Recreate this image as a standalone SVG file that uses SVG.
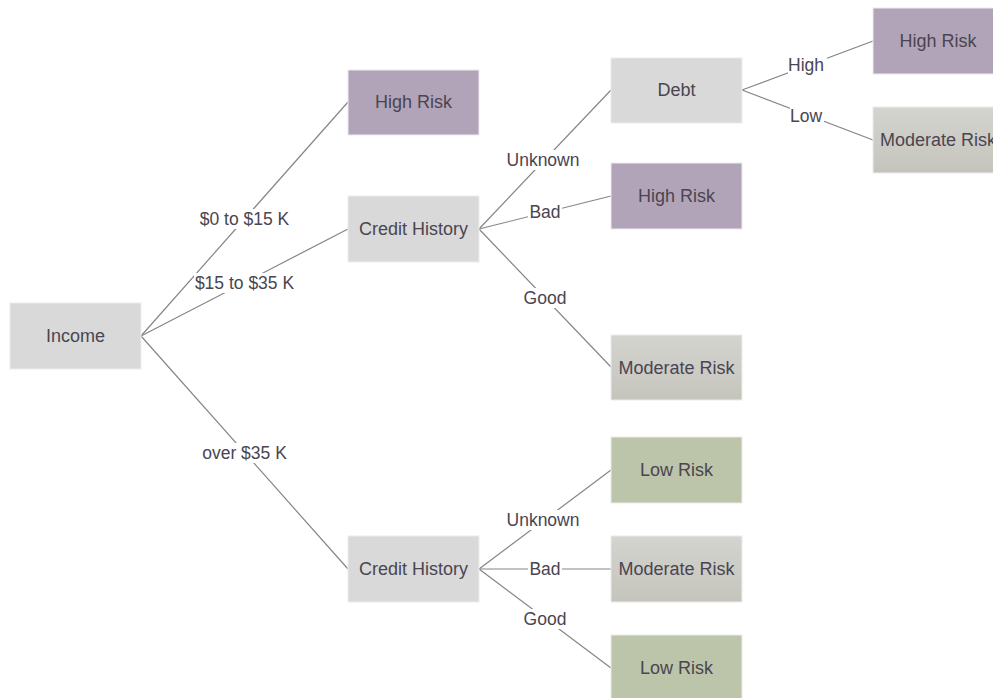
<svg xmlns="http://www.w3.org/2000/svg" width="993" height="698" viewBox="0 0 993 698">
<style>
.n{stroke:#ececec;stroke-width:1}
.gray{fill:#d9d9d9}
.high{fill:#b2a4b8}
.low{fill:#bcc4aa}
.mod{fill:url(#modg)}
.nt{font-family:"Liberation Sans",Arial,sans-serif;font-size:18px;fill:#4a4550;text-anchor:middle}
.c line{stroke:#858585;stroke-width:1.2}
.lb rect{fill:#fff}
.lt{font-family:"Liberation Sans",Arial,sans-serif;font-size:17.5px;fill:#4a4550;text-anchor:middle}
</style>
<defs>
<linearGradient id="modg" x1="0" y1="0" x2="0" y2="1">
<stop offset="0" stop-color="#d4d4d0"/>
<stop offset="1" stop-color="#c5c4bc"/>
</linearGradient>
</defs>
<rect width="993" height="698" fill="#fff"/>
<g id="connectors" class="c">
<line x1="141" y1="336" x2="348" y2="102"/>
<line x1="141" y1="336" x2="348" y2="229"/>
<line x1="141" y1="336" x2="348" y2="569"/>
<line x1="479" y1="229" x2="611" y2="90"/>
<line x1="479" y1="229" x2="611" y2="196"/>
<line x1="479" y1="229" x2="611" y2="367"/>
<line x1="742" y1="90" x2="873" y2="41"/>
<line x1="742" y1="90" x2="873" y2="140"/>
<line x1="479" y1="569" x2="611" y2="470"/>
<line x1="479" y1="569" x2="611" y2="569"/>
<line x1="479" y1="569" x2="611" y2="668"/>
</g>
<g id="labels" class="lb">
<rect x="198" y="209" width="93" height="20"/><text class="lt" x="244.5" y="225">$0 to $15 K</text>
<rect x="194" y="273" width="101" height="20"/><text class="lt" x="244.5" y="289">$15 to $35 K</text>
<rect x="201" y="443" width="87" height="20"/><text class="lt" x="244.5" y="459">over $35 K</text>
<rect x="507" y="150" width="76" height="20"/><text class="lt" x="543" y="166">Unknown</text>
<rect x="528" y="202" width="34" height="20"/><text class="lt" x="545" y="218">Bad</text>
<rect x="522" y="288" width="46" height="20"/><text class="lt" x="545" y="304">Good</text>
<rect x="788" y="55" width="39" height="20"/><text class="lt" x="806" y="71">High</text>
<rect x="790" y="105" width="34" height="20"/><text class="lt" x="806" y="122">Low</text>
<rect x="507" y="510" width="76" height="20"/><text class="lt" x="543" y="526">Unknown</text>
<rect x="528" y="559" width="34" height="20"/><text class="lt" x="545" y="575">Bad</text>
<rect x="522" y="609" width="46" height="20"/><text class="lt" x="545" y="625">Good</text>
</g>
<g id="income"><rect class="n gray" x="10" y="303" width="131" height="66"/><text class="nt" x="75.5" y="342">Income</text></g>
<g id="highrisk1"><rect class="n high" x="348" y="70" width="131" height="65"/><text class="nt" x="413.5" y="108">High Risk</text></g>
<g id="credit1"><rect class="n gray" x="348" y="196" width="131" height="66"/><text class="nt" x="413.5" y="235">Credit History</text></g>
<g id="credit2"><rect class="n gray" x="348" y="536" width="131" height="66"/><text class="nt" x="413.5" y="575">Credit History</text></g>
<g id="debt"><rect class="n gray" x="611" y="58" width="131" height="65"/><text class="nt" x="676.5" y="96">Debt</text></g>
<g id="highrisk2"><rect class="n high" x="611" y="163" width="131" height="66"/><text class="nt" x="676.5" y="202">High Risk</text></g>
<g id="moderate1"><rect class="n mod" x="611" y="335" width="131" height="65"/><text class="nt" x="676.5" y="374">Moderate Risk</text></g>
<g id="lowrisk1"><rect class="n low" x="611" y="437" width="131" height="66"/><text class="nt" x="676.5" y="476">Low Risk</text></g>
<g id="moderate2"><rect class="n mod" x="611" y="536" width="131" height="66"/><text class="nt" x="676.5" y="575">Moderate Risk</text></g>
<g id="lowrisk2"><rect class="n low" x="611" y="635" width="131" height="66"/><text class="nt" x="676.5" y="674">Low Risk</text></g>
<g id="highrisk3"><rect class="n high" x="873" y="8" width="131" height="66"/><text class="nt" x="938" y="47">High Risk</text></g>
<g id="moderate3"><rect class="n mod" x="873" y="107" width="131" height="66"/><text class="nt" x="938" y="146">Moderate Risk</text></g>
</svg>
